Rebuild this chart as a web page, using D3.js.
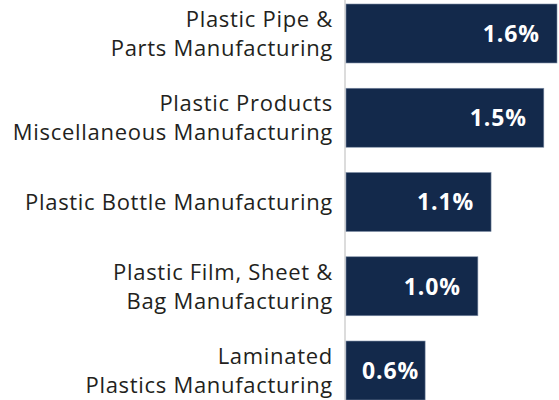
<!DOCTYPE html>
<html><head><meta charset="utf-8">
<script src="https://cdn.jsdelivr.net/npm/d3@7"></script>
<style>body{margin:0;background:#fff}svg{display:block}</style>
</head><body>
<script>
const categories = [
  ["Plastic Pipe &", "Parts Manufacturing"],
  ["Plastic Products", "Miscellaneous Manufacturing"],
  ["Plastic Bottle Manufacturing"],
  ["Plastic Film, Sheet &", "Bag Manufacturing"],
  ["Laminated", "Plastics Manufacturing"]
];
const values = [1.6, 1.5, 1.1, 1.0, 0.6];
const valueLabels = ["1.6%", "1.5%", "1.1%", "1.0%", "0.6%"];

const W = 559, H = 400;
const svg = d3.select("body").append("svg").attr("width", W).attr("height", H);

const x = d3.scaleLinear().domain([0, 1.6]).range([346, 557]);
const y = d3.scaleBand().domain(d3.range(values.length)).range([4, 400]).paddingInner(0.3).paddingOuter(0);

svg.append("line").attr("x1", 345).attr("x2", 345).attr("y1", 0).attr("y2", H)
  .attr("stroke", "#dcdcdc").attr("stroke-width", 2);

svg.selectAll("rect.bar").data(values).join("rect").attr("class", "bar")
  .attr("x", x(0)).attr("y", (d, i) => y(i))
  .attr("width", d => x(d) - x(0)).attr("height", y.bandwidth())
  .attr("fill", "#13294b").attr("stroke", "#7d8da5").attr("stroke-width", 0.6);

const font = "'Open Sans', Lato, sans-serif";
const lineH = 29;
svg.selectAll("text.cat").data(categories).join("text").attr("class", "cat")
  .attr("font-family", font).attr("font-size", 22).attr("fill", "#231f20")
  .attr("letter-spacing", 0.7)
  .attr("text-anchor", "end")
  .each(function(lines, i) {
    const cy = y(i) + y.bandwidth() / 2;
    const t = d3.select(this);
    lines.forEach((ln, k) => {
      t.append("tspan").attr("x", 333)
        .attr("y", cy + (k - (lines.length - 1) / 2) * lineH)
        .attr("dy", "0.36em").text(ln);
    });
  });

svg.selectAll("text.val").data(values).join("text").attr("class", "val")
  .attr("font-family", font).attr("font-size", 23).attr("font-weight", "bold")
  .attr("letter-spacing", 0.9)
  .attr("fill", "#fff").attr("text-anchor", "end")
  .attr("y", (d, i) => y(i) + y.bandwidth() / 2).attr("dy", "0.36em")
  .text((d, i) => valueLabels[i])
  .attr("x", function(d) {
    const w = this.getComputedTextLength();
    return Math.max(x(d) - 17, x(0) + 16 + w);
  });
</script>
</body></html>
